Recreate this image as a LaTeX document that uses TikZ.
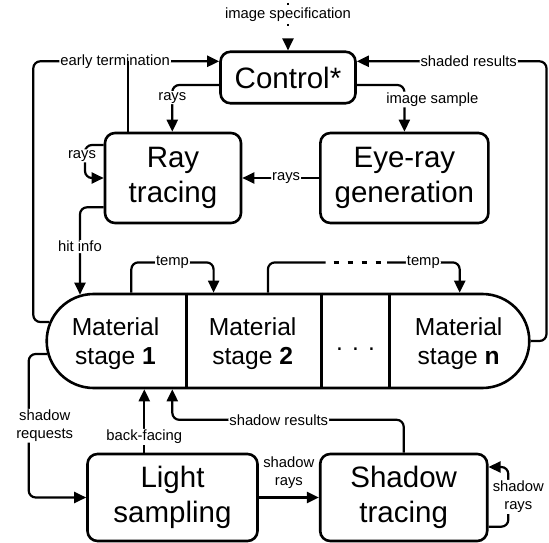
\documentclass[tikz,border=0pt]{standalone}
\usepackage{fontspec}
\setmainfont{Liberation Sans}
\usepackage{tikz}
\usetikzlibrary{arrows.meta}
\usetikzlibrary{shapes.misc}

\newcommand{\boxfont}{\fontsize{29.5}{35}\selectfont}
\newcommand{\stagefont}{\fontsize{24.6}{29.5}\selectfont}
\newcommand{\labelfont}{\fontsize{14.8}{18}\selectfont}

\tikzset{
    unit/.style={draw, line width=2.6pt, rounded corners=10pt, align=center, font=\boxfont, inner sep=0pt},
    flow/.style={line width=2.2pt, rounded corners=7pt},
    tip/.style={-{Triangle[length=12pt,width=11pt]}},
    tag/.style={fill=white, inner sep=1pt, font=\labelfont, align=center},
}

\begin{document}
\begin{tikzpicture}[x=1pt, y=-1pt]
    \useasboundingbox (0,0) rectangle (549,543);
    % units
    \node[unit, minimum width=135pt, minimum height=51.5pt] (ctrl) at (288,77.5) {Control*};
    \node[unit, minimum width=136pt, minimum height=90pt] (ray) at (173,178) {Ray\\tracing};
    \node[unit, minimum width=168pt, minimum height=90pt] (eye) at (404.4,178) {Eye-ray\\generation};
    \node[unit, minimum width=170pt, minimum height=87pt] (light) at (172.5,497.5) {Light\\sampling};
    \node[unit, minimum width=167pt, minimum height=87pt] (shadow) at (403.7,497.5) {Shadow\\tracing};
    % material stages
    \node[draw, rounded rectangle, line width=2.6pt, minimum width=482.6pt, minimum height=94pt, inner sep=0pt] (pill) at (288,341) {};
    \foreach \x in {186.6,321.4,389.7}
        \draw[line width=2.6pt] (\x,0 |- pill.north) -- (\x,0 |- pill.south);
    \node[font=\stagefont, align=center] (m1) at (115.5,343.5) {Material\\stage \textbf{1}};
    \node[font=\stagefont, align=center] (m2) at (252.7,343.5) {Material\\stage \textbf{2}};
    \node[font=\stagefont] (mdots) at (355.5,349.3) {. . .};
    \node[font=\stagefont, align=center] (mn) at (458.7,343.5) {Material\\stage \textbf{n}};

    % control loop
    \coordinate (src) at (288,0);
    \draw[flow, tip, dash pattern=on 0pt off 3pt on 2pt off 16pt] (src) -- node[tag, pos=.29]{image specification} (ctrl.north);
    \coordinate (et) at (33.3,61.3);
    \coordinate (join) at (127.8,61.3);
    \coordinate (sh) at (546.5,61.3);
    \draw[flow, tip] ([shift={(4,-19)}]pill.west) -| (et) -- node[tag, pos=.44]{early termination} (ctrl.west |- et);
    \draw[flow] (join) -- (ray.north -| join);
    \draw[flow, tip] (pill.east) -| (sh) -- node[tag, pos=.41]{shaded results} (ctrl.east |- sh);
    \coordinate (cr) at (172.3,85);
    \coordinate (cs) at (404.4,85);
    \draw[flow, tip] (ctrl.west |- cr) -- (cr) -- node[tag, pos=.27]{rays} (ray.north -| cr);
    \draw[flow, tip] (ctrl.east |- cs) -- (cs) -- node[tag, pos=.31, xshift=28pt]{image sample} (eye.north -| cs);

    % ray tracing
    \draw[flow, tip] (eye) -- node[tag, pos=.43]{rays} (ray);
    \coordinate (rl1) at (85,145);
    \coordinate (rl2) at (85,178);
    \draw[flow, tip] (ray.west |- rl1) -- (rl1) -- node[tag, pos=.33, xshift=-3pt]{rays} (rl2) -- (ray.west |- rl2);
    \coordinate (hi) at (80,207.3);
    \draw[flow, tip] (ray.west |- hi) -- (hi) -- node[tag, pos=.45]{hit info} ([yshift=-2pt]hi |- pill.north);

    % temp between stages
    \coordinate (t1a) at (131.3,262.4);
    \coordinate (t1b) at (213.6,262.4);
    \draw[flow, tip] (t1a |- pill.north) -- (t1a) -- node[tag]{temp} (t1b) -- (t1b |- pill.north);
    \coordinate (t2a) at (267.9,262.4);
    \coordinate (d1) at (325.6,262.4);
    \coordinate (d2) at (387,262.4);
    \coordinate (t2b) at (459.7,262.4);
    \draw[flow] (t2a |- pill.north) -- (t2a) -- (d1);
    \draw[flow, dash pattern=on 0pt off 8pt on 5pt off 9pt on 5pt off 9pt on 5pt off 9pt on 5pt off 20pt] (d1) -- (d2);
    \draw[flow, tip] (d2) -- node[tag]{temp} (t2b) -- (t2b |- pill.north);

    % shadows
    \coordinate (sq0) at (28.7,354);
    \coordinate (sq) at (28.7,497.5);
    \draw[flow, tip] ([shift={(2,13)}]pill.west) -- (sq0) -- node[tag, xshift=16pt]{shadow\\requests} (sq) -- (light.west |- sq);
    \coordinate (bf) at (144.3,437);
    \draw[flow, tip] (light.north -| bf) -- node[tag, pos=.25]{back-facing} (bf |- pill.south);
    \coordinate (sr) at (172.3,419.8);
    \draw[flow, tip] (shadow.north) -- (shadow.north |- sr) -- node[tag, pos=.54]{shadow results} (sr) -- (sr |- pill.south);
    \draw[flow, tip] (light) -- node[tag, fill=none, yshift=25pt]{shadow\\rays} (shadow);
    \coordinate (sl1) at (508.3,526.7);
    \coordinate (sl2) at (508.3,467);
    \draw[flow, tip] (shadow.east |- sl1) -- (sl1) -- node[tag, xshift=10pt]{shadow\\rays} (sl2) -- (shadow.east |- sl2);
\end{tikzpicture}
\end{document}
